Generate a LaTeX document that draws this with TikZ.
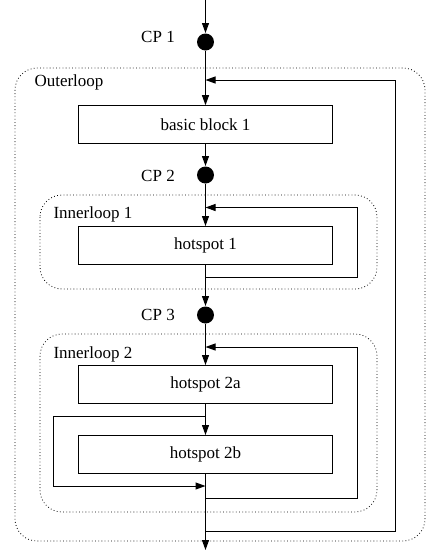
\documentclass[tikz,border=0pt]{standalone}
\usepackage{fontspec}
\setmainfont{Liberation Serif}
\usetikzlibrary{arrows.meta}
\begin{document}
\begin{tikzpicture}[x=1pt,y=-1pt,
  line width=1pt,
  every node/.style={font=\fontsize{17}{20}\selectfont},
  blk/.style={draw, minimum width=254pt, minimum height=38pt, inner sep=0pt},
  cpdot/.style={circle, fill=black, minimum size=17pt, inner sep=0pt},
  lbl/.style={anchor=west, inner sep=0pt},
  flow/.style={-{Triangle[length=10pt,width=7pt]}},
  loopbox/.style={draw, line width=0.8pt, dash pattern=on 0.8pt off 2.4pt, rounded corners=22pt}
]
\useasboundingbox (0,0) rectangle (426,550);
% loop regions
\draw[loopbox] (15,68) rectangle (425,541);
\draw[loopbox] (40,195) rectangle (377,289);
\draw[loopbox] (40,334) rectangle (377,512);
\node[lbl] (lout) at (34,82) {Outerloop};
\node[lbl] (lin1) at (53,214) {Innerloop 1};
\node[lbl] (lin2) at (53,354) {Innerloop 2};
% checkpoints
\node[cpdot] (cp1) at (205.5,42) {};
\node[cpdot] (cp2) at (205.5,175) {};
\node[cpdot] (cp3) at (205.5,315) {};
\node (lcp1) at (158,37) {CP 1};
\node (lcp2) at (158,176) {CP 2};
\node (lcp3) at (158,315) {CP 3};
% blocks
\node[blk] (bb1) at (205.5,124.7) {basic block 1};
\node[blk] (hot1) at (205.5,245.5) {hotspot 1};
\node[blk] (hot2a) at (205.5,384.5) {hotspot 2a};
\node[blk] (hot2b) at (205.5,454.5) {hotspot 2b};
% coordinates
\coordinate (top) at (205.5,0);
\coordinate (bot) at (205.5,550);
\coordinate (oin) at (205.5,80);
\coordinate (oout) at (205.5,531);
\coordinate (i1in) at (205.5,207.5);
\coordinate (i1out) at (205.5,277);
\coordinate (i2in) at (205.5,347);
\coordinate (i2out) at (205.5,498.5);
\coordinate (bpin) at (205.5,416.7);
\coordinate (bpout) at (205.5,486);
% flow
\draw[flow] (top) -- (cp1);
\draw[flow] (cp1) -- (bb1);
\draw[flow] (bb1) -- (cp2);
\draw[flow] (cp2) -- (hot1);
\draw[flow] (hot1) -- (cp3);
\draw[flow] (cp3) -- (hot2a);
\draw[flow] (hot2a) -- (hot2b);
\draw[flow] (hot2b) -- (bot);
% loops
\draw[flow] (oout) -- (395.5,531) -- (395.5,80) -- (oin);
\draw[flow] (i1out) -- (357.5,277) -- (357.5,207.5) -- (i1in);
\draw[flow] (i2out) -- (357.5,498.5) -- (357.5,347) -- (i2in);
\draw[flow] (bpin) -- (53.5,416.7) -- (53.5,486) -- (bpout);
\end{tikzpicture}
\end{document}
